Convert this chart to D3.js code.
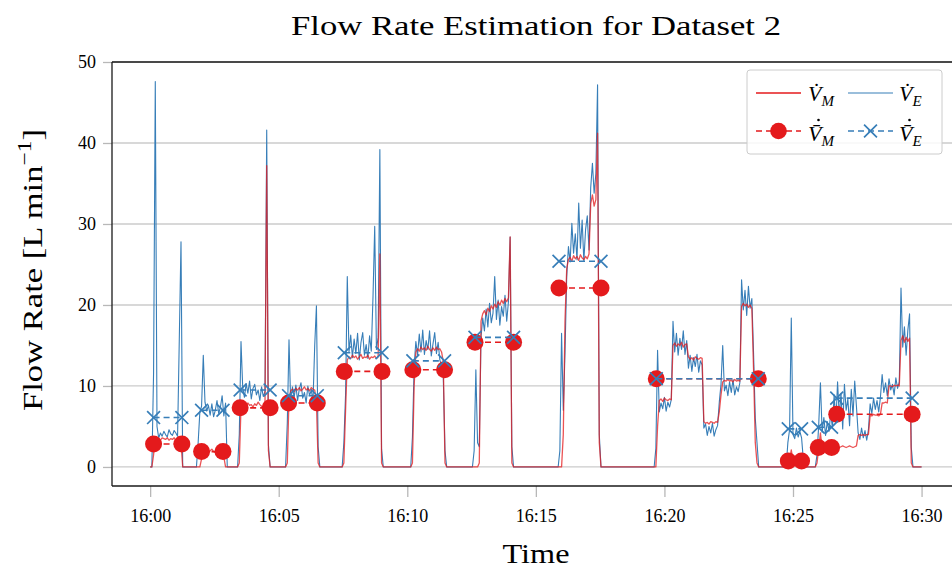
<!DOCTYPE html>
<html>
<head>
<meta charset="utf-8">
<script src="https://cdn.jsdelivr.net/npm/d3@7"></script>
<style>
  body { margin: 0; background: #fff; }
  text { font-family: "Liberation Serif", "DejaVu Serif", serif; fill: #000; }
</style>
</head>
<body>
<script>
// canvas size and margins
var svgWidth = 952;
var svgHeight = 568;
var margin = { top: 62, right: 0, bottom: 82, left: 112 };

// readings are taken every 4 s; each burst starts and ends at zero flow
var sampleStep = 4;
var recordStart = "16:00:00";
var recordEnd = "16:30:00";
var burstStart = ["16:00:04", "16:01:48", "16:03:24", "16:05:16", "16:07:28", "16:10:08",
  "16:12:32", "16:15:52", "16:19:36", "16:24:44", "16:25:52"];

// measured flow rate V_M [L/min]
var flowM = [
  [0, 1.5, 3.6, 3.4, 3.5, 3.3, 3.6, 3.5, 3.4, 3.6, 3.3, 3.5, 3.4, 3.6, 3.2, 3.4, 3.5, 3.0, 0],
  [0, 0, 0, 1.0, 2.0, 1.9, 2.1, 1.8, 2.0, 2.2, 1.9, 1.8, 2.0, 2.1, 1.9, 1.8, 1.2, 0, 0],
  [0, 0.5, 7.4, 7.6, 7.8, 7.5, 7.9, 7.6, 7.7, 7.4, 7.8, 7.6, 8.0, 7.7, 7.5, 7.3, 7.8, 37.2, 2.0, 0],
  [0, 0.5, 8.5, 9.4, 9.6, 9.3, 9.7, 9.5, 9.8, 9.4, 9.6, 9.9, 9.5, 9.7, 9.4, 9.8, 9.6, 9.5, 8.0, 0.5, 0],
  [0, 0.5, 7.0, 13.2, 13.6, 13.4, 13.8, 13.5, 13.7, 13.3, 13.6, 13.9, 13.4, 13.6, 13.5, 13.8, 13.3, 13.6,
    13.5, 13.7, 13.4, 13.6, 26.3, 0.5, 0],
  [0, 0.5, 10.0, 14.2, 14.6, 14.3, 14.8, 14.5, 14.7, 14.4, 14.9, 14.5, 14.3, 14.7, 14.4, 14.8, 14.5, 14.6,
    14.2, 13.0, 0.5, 0],
  [0, 0, 0, 0, 0.5, 18.0, 18.9, 19.3, 18.8, 19.6, 19.2, 19.9, 19.5, 20.1, 19.7, 20.4, 20.0, 20.6, 20.2,
    20.8, 20.4, 20.9, 28.4, 0.5, 0],
  [0, 0, 0, 4.0, 18.0, 24.5, 25.6, 25.9, 25.4, 26.1, 25.7, 26.0, 25.5, 26.2, 25.8, 25.6, 26.0, 25.7, 26.3,
    32.5, 33.6, 32.2, 33.0, 41.2, 3.0, 0, 0],
  [0, 0, 5.0, 8.2, 8.4, 8.1, 8.5, 8.3, 8.2, 8.4, 8.3, 15.0, 15.3, 14.9, 15.2, 15.0, 15.4, 14.8, 15.1, 15.2,
    13.6, 13.3, 13.5, 13.2, 13.6, 13.4, 13.3, 13.5, 13.4, 5.6, 5.4, 5.5, 5.3, 5.6, 5.5, 5.4, 5.6, 5.5,
    6.8, 8.9, 10.5, 10.7, 10.6, 10.8, 10.6, 10.7, 10.5, 10.8, 10.6, 10.7, 10.6, 19.8, 20.2, 19.9, 20.1,
    19.7, 20.0, 19.6, 12.0, 3.0, 0.5, 0, 0],
  [0, 0.3, 0.8, 2.1, 0.7, 0.8, 0.6, 0.8, 0.7, 0.6, 0, 0],
  [0, 0.5, 2.3, 4.2, 2.2, 2.5, 2.3, 2.4, 2.4, 2.3, 2.4, 2.5, 2.4, 2.5, 2.4, 2.5, 2.6, 2.5, 2.4, 2.5, 2.6,
    2.5, 2.4, 2.5, 2.6, 3.9, 4.0, 3.9, 4.0, 3.9, 4.0, 4.0, 6.4, 6.3, 6.5, 6.4, 6.4, 6.3, 6.5, 7.9, 7.9,
    8.0, 7.9, 10.0, 10.0, 9.9, 10.1, 10.0, 10.1, 10.0, 15.6, 16.2, 15.4, 16.0, 15.5, 15.9, 0.5, 0, 0]
];

// estimated flow rate V_E [L/min]
var flowE = [
  [0, 11.6, 47.6, 5.0, 3.6, 4.2, 3.8, 4.4, 4.0, 3.7, 4.6, 4.1, 3.9, 4.5, 4.2, 3.8, 15.7, 27.8, 0],
  [0, 3.0, 6.8, 7.5, 13.8, 8.0, 6.9, 7.6, 6.4, 7.8, 6.2, 7.0, 8.2, 6.6, 7.4, 8.8, 6.3, 7.9, 0],
  [0, 4.0, 15.5, 9.8, 8.6, 10.3, 9.1, 10.6, 8.4, 9.7, 10.2, 8.9, 9.5, 8.2, 9.9, 8.7, 9.3, 41.6, 2.7, 0],
  [0, 5.4, 15.7, 7.8, 9.9, 8.6, 10.1, 8.2, 9.6, 10.4, 8.5, 9.2, 7.9, 10.0, 8.8, 9.5, 8.1, 15.0, 19.9, 2.5, 0],
  [0, 3.0, 9.0, 23.5, 14.2, 16.3, 13.5, 15.8, 14.0, 16.5, 13.2, 15.4, 16.6, 13.8, 15.1, 13.4, 16.2, 14.3,
    21.0, 29.7, 14.5, 16.0, 39.2, 2.2, 0],
  [0, 3.7, 12.5, 15.5, 13.8, 16.4, 14.2, 16.9, 13.9, 15.6, 14.5, 16.8, 13.7, 15.2, 16.6, 14.0, 15.4, 13.2,
    12.5, 11.0, 2.0, 0],
  [0, 2.0, 12.0, 3.0, 2.5, 16.0, 18.4, 16.8, 19.5, 17.3, 20.2, 17.8, 19.0, 23.5, 18.2, 20.6, 17.5, 19.8,
    18.6, 21.2, 18.0, 20.4, 28.4, 2.5, 0],
  [0, 2.0, 16.5, 7.0, 14.0, 23.5, 27.2, 25.3, 30.1, 26.4, 28.8, 25.6, 32.6, 27.0, 30.5, 25.4, 29.3, 31.0,
    26.8, 34.5, 37.5, 33.8, 36.2, 47.2, 4.0, 0, 0],
  [0, 2.3, 14.4, 6.8, 7.9, 7.2, 8.6, 6.9, 8.0, 7.4, 8.3, 18.0, 14.2, 16.5, 13.8, 15.9, 14.5, 16.8, 13.9,
    15.6, 12.2, 13.8, 11.8, 13.5, 12.4, 13.9, 11.7, 13.1, 12.6, 4.8, 5.3, 3.9, 5.0, 4.2, 5.4, 3.8, 4.6,
    5.1, 8.0, 10.2, 15.0, 9.4, 10.1, 8.8, 10.5, 9.2, 10.8, 8.9, 9.9, 9.3, 10.4, 23.1, 19.4, 21.8, 18.7,
    22.3, 19.6, 20.8, 14.0, 6.0, 3.0, 0, 0],
  [0, 3.0, 4.6, 18.4, 4.0, 3.5, 4.8, 3.7, 4.4, 3.6, 1.0, 0],
  [0, 1.5, 5.2, 10.4, 4.3, 6.1, 3.9, 5.6, 4.4, 6.7, 4.8, 8.9, 5.5, 10.5, 6.2, 9.1, 4.7, 10.2, 7.0, 8.4,
    5.1, 9.6, 6.3, 10.6, 7.5, 4.2, 3.4, 4.8, 3.6, 4.5, 3.3, 4.6, 7.8, 6.6, 8.5, 7.1, 8.2, 6.8, 8.6, 11.4,
    9.2, 10.4, 8.8, 10.9, 9.5, 10.2, 8.9, 11.0, 9.7, 10.5, 22.1, 14.8, 17.3, 13.8, 16.9, 18.9, 2.4, 0, 0]
];

// averaged flow per dispensing interval
var avgStart = ["16:00:08", "16:02:00", "16:03:30", "16:05:23", "16:07:33", "16:10:13",
  "16:12:38", "16:15:54", "16:19:41", "16:24:49", "16:25:59", "16:26:42"];
var avgEnd = ["16:01:14", "16:02:50", "16:04:40", "16:06:30", "16:09:01", "16:11:27",
  "16:14:08", "16:17:32", "16:23:39", "16:25:20", "16:26:30", "16:29:38"];
var avgM = [2.84, 1.9, 7.3, 7.9, 11.8, 12.0, 15.4, 22.1, 10.9, 0.75, 2.4, 6.5];
var avgE = [6.1, 7.0, 9.5, 8.8, 14.1, 13.1, 16.0, 25.4, 10.9, 4.7, 4.9, 8.5];

var yTicks = [0, 10, 20, 30, 40, 50];

var colorM = "#e41a1c";
var colorE = "#377eb8";

var parseTime = d3.timeParse("%H:%M:%S");

// turn the bursts into one continuous series
function buildSeries(bursts) {
  var pts = [[parseTime(recordStart), 0]];
  bursts.forEach(function (vals, i) {
    var t0 = parseTime(burstStart[i]).getTime();
    vals.forEach(function (v, j) {
      pts.push([new Date(t0 + j * sampleStep * 1000), v]);
    });
  });
  pts.push([parseTime(recordEnd), 0]);
  return pts;
}
var seriesM = buildSeries(flowM);
var seriesE = buildSeries(flowE);

var svg = d3.select("body")
  .append("svg")
  .attr("width", svgWidth)
  .attr("height", svgHeight);

var width = svgWidth - margin.left - margin.right;
var height = svgHeight - margin.top - margin.bottom;

var xScale = d3.scaleTime()
  .domain([parseTime("15:58:31"), parseTime("16:31:11")])
  .range([margin.left, margin.left + width]);

var yScale = d3.scaleLinear()
  .domain([-2.35, 50])
  .range([margin.top + height, margin.top]);

// grid
svg.append("g")
  .selectAll("line")
  .data(yTicks)
  .enter()
  .append("line")
  .attr("x1", margin.left)
  .attr("x2", svgWidth)
  .attr("y1", d => yScale(d))
  .attr("y2", d => yScale(d))
  .attr("stroke", "#cbcbcb")
  .attr("stroke-width", 1.3);

// axes
var xAxis = d3.axisBottom(xScale)
  .ticks(d3.timeMinute.every(5))
  .tickFormat(d3.timeFormat("%H:%M"))
  .tickSize(11)
  .tickPadding(12);

var yAxis = d3.axisLeft(yScale)
  .tickValues(yTicks)
  .tickSize(9)
  .tickPadding(7);

var gx = svg.append("g")
  .attr("transform", `translate(0, ${margin.top + height})`)
  .call(xAxis);
gx.select(".domain").remove();
gx.selectAll(".tick line").attr("stroke", "#b8b8b8").attr("stroke-width", 1.3);
gx.selectAll(".tick text")
  .style("font-family", "Liberation Serif")
  .style("font-size", "18px")
  .attr("fill", "#000");

var gy = svg.append("g")
  .attr("transform", `translate(${margin.left}, 0)`)
  .call(yAxis);
gy.select(".domain").remove();
gy.selectAll(".tick line").attr("stroke", "#b8b8b8").attr("stroke-width", 1.3);
gy.selectAll(".tick text")
  .style("font-family", "Liberation Serif")
  .style("font-size", "18px")
  .attr("fill", "#000");

// data lines
var line = d3.line()
  .x(d => xScale(d[0]))
  .y(d => yScale(d[1]));

svg.append("path")
  .datum(seriesE)
  .attr("d", line)
  .attr("fill", "none")
  .attr("stroke", colorE)
  .attr("stroke-width", 1.1)
  .attr("stroke-linejoin", "round");

svg.append("path")
  .datum(seriesM)
  .attr("d", line)
  .attr("fill", "none")
  .attr("stroke", colorM)
  .attr("stroke-width", 1.3)
  .attr("stroke-opacity", 0.75)
  .attr("stroke-linejoin", "round");

// averages: dashed segment with marker at both ends
var avgData = avgStart.map(function (s, i) {
  return { t0: parseTime(s), t1: parseTime(avgEnd[i]), m: avgM[i], e: avgE[i] };
});

svg.append("g")
  .selectAll("line")
  .data(avgData)
  .enter()
  .append("line")
  .attr("x1", d => xScale(d.t0))
  .attr("x2", d => xScale(d.t1))
  .attr("y1", d => yScale(d.m))
  .attr("y2", d => yScale(d.m))
  .attr("stroke", colorM)
  .attr("stroke-width", 1.6)
  .attr("stroke-dasharray", "6,4");

var circlePts = [];
avgData.forEach(function (d) {
  circlePts.push([d.t0, d.m]);
  circlePts.push([d.t1, d.m]);
});

svg.append("g")
  .selectAll("circle")
  .data(circlePts)
  .enter()
  .append("circle")
  .attr("cx", d => xScale(d[0]))
  .attr("cy", d => yScale(d[1]))
  .attr("r", 8.5)
  .attr("fill", colorM);

svg.append("g")
  .selectAll("line")
  .data(avgData)
  .enter()
  .append("line")
  .attr("x1", d => xScale(d.t0))
  .attr("x2", d => xScale(d.t1))
  .attr("y1", d => yScale(d.e))
  .attr("y2", d => yScale(d.e))
  .attr("stroke", colorE)
  .attr("stroke-width", 1.6)
  .attr("stroke-dasharray", "6,4");

var crossPts = [];
avgData.forEach(function (d) {
  crossPts.push([d.t0, d.e]);
  crossPts.push([d.t1, d.e]);
});

svg.append("g")
  .selectAll("path")
  .data(crossPts)
  .enter()
  .append("path")
  .attr("d", d3.symbol().type(d3.symbolX).size(110))
  .attr("transform", d => `translate(${xScale(d[0])}, ${yScale(d[1])})`)
  .attr("fill", "none")
  .attr("stroke", colorE)
  .attr("stroke-width", 1.7);

// frame (right edge runs off the canvas)
var frame = svg.append("g").attr("stroke", "#1a1a1a").attr("stroke-width", 1.3);
frame.append("line")
  .attr("x1", margin.left).attr("x2", svgWidth)
  .attr("y1", margin.top).attr("y2", margin.top);
frame.append("line")
  .attr("x1", margin.left).attr("x2", svgWidth)
  .attr("y1", margin.top + height).attr("y2", margin.top + height);
frame.append("line")
  .attr("x1", margin.left).attr("x2", margin.left)
  .attr("y1", margin.top).attr("y2", margin.top + height);

// titles
svg.append("text")
  .attr("x", 536)
  .attr("y", 35)
  .attr("text-anchor", "middle")
  .attr("textLength", 490)
  .attr("lengthAdjust", "spacingAndGlyphs")
  .style("font-size", "28px")
  .text("Flow Rate Estimation for Dataset 2");

svg.append("text")
  .attr("x", 536)
  .attr("y", 563)
  .attr("text-anchor", "middle")
  .attr("textLength", 67)
  .attr("lengthAdjust", "spacingAndGlyphs")
  .style("font-size", "28px")
  .text("Time");

var ylab = svg.append("text")
  .attr("transform", "translate(42, 270) rotate(-90)")
  .attr("text-anchor", "middle")
  .attr("textLength", 282)
  .attr("lengthAdjust", "spacingAndGlyphs")
  .style("font-size", "28px");
ylab.append("tspan").text("Flow Rate [L min");
ylab.append("tspan").attr("dy", -11).style("font-size", "19px").text("\u22121");
ylab.append("tspan").attr("dy", 11).text("]");

// legend
var legend = svg.append("g");
legend.append("rect")
  .attr("x", 747).attr("y", 70)
  .attr("width", 195).attr("height", 84)
  .attr("rx", 3)
  .attr("fill", "#fff")
  .attr("fill-opacity", 0.85)
  .attr("stroke", "#cccccc");

function legendLabel(x, y, base, sub, barred) {
  var t = legend.append("text")
    .attr("x", x).attr("y", y)
    .style("font-size", "22px")
    .style("font-style", "italic");
  t.append("tspan").text(base);
  t.append("tspan").attr("dy", 5).style("font-size", "15px").text(sub);
  if (barred) {
    // time-derivative dot above the bar
    legend.append("circle")
      .attr("cx", x + 10.5).attr("cy", y - 21)
      .attr("r", 1.3)
      .attr("fill", "#000");
  }
}

legend.append("line")
  .attr("x1", 756).attr("x2", 801).attr("y1", 93).attr("y2", 93)
  .attr("stroke", colorM).attr("stroke-width", 1.3);
legendLabel(808, 101, "V\u0307", "M", false);
legend.append("line")
  .attr("x1", 848).attr("x2", 893).attr("y1", 93).attr("y2", 93)
  .attr("stroke", colorE).attr("stroke-width", 1.1);
legendLabel(899, 101, "V\u0307", "E", false);

legend.append("line")
  .attr("x1", 756).attr("x2", 801).attr("y1", 131).attr("y2", 131)
  .attr("stroke", colorM).attr("stroke-width", 1.6).attr("stroke-dasharray", "6,4");
legend.append("circle")
  .attr("cx", 778.5).attr("cy", 131).attr("r", 8.3).attr("fill", colorM);
legendLabel(808, 141, "V\u0304", "M", true);

legend.append("line")
  .attr("x1", 848).attr("x2", 893).attr("y1", 131).attr("y2", 131)
  .attr("stroke", colorE).attr("stroke-width", 1.6).attr("stroke-dasharray", "6,4");
legend.append("path")
  .attr("d", d3.symbol().type(d3.symbolX).size(110))
  .attr("transform", "translate(870.5, 131)")
  .attr("fill", "none")
  .attr("stroke", colorE)
  .attr("stroke-width", 1.7);
legendLabel(899, 141, "V\u0304", "E", true);
</script>
</body>
</html>
